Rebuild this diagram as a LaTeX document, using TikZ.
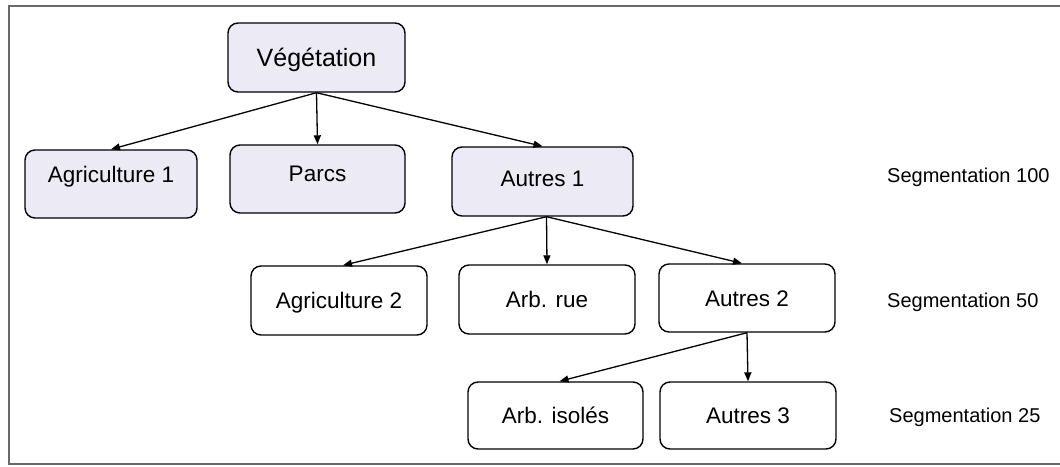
\documentclass[tikz,border=0pt]{standalone}
\usepackage{fontspec}
\setmainfont{Liberation Sans}
\usetikzlibrary{arrows.meta}
\definecolor{boxfill}{RGB}{236,234,244}
\definecolor{framegray}{RGB}{105,105,105}
\begin{document}
\begin{tikzpicture}[x=1pt,y=-1pt,
  box/.style={draw=black, line width=1.4pt, rounded corners=10pt,
    minimum width=176pt, minimum height=68pt, inner sep=0pt,
    font=\fontsize{22.5}{27}\selectfont, text height=16pt, text depth=0pt},
  shaded/.style={box, fill=boxfill},
  conn/.style={line width=1.3pt, -{Triangle[length=9pt,width=7pt]}},
  seglabel/.style={anchor=west, font=\fontsize{20}{24}\selectfont,
    inner sep=0pt, text height=14.3pt, text depth=0pt},
  framestyle/.style={draw=framegray, line width=1.5pt}]
\useasboundingbox (0,0) rectangle (1060,466);

% frame
\coordinate (ftr) at (1060,6);
\coordinate (ftl) at (9,6);
\coordinate (fbl) at (9,464);
\coordinate (fbr) at (1060,464);
\draw[framestyle] (ftr) -- (ftl) -- (fbl) -- (fbr);

% level 0
\node[shaded, minimum width=177pt, minimum height=69pt,
  font=\fontsize{25}{30}\selectfont, text height=18pt] (veg) at (316.5,57.5) {Végétation};

% level 1
\node[shaded, minimum width=172pt, text depth=20pt] (agr1) at (111,184) {Agriculture 1};
\node[shaded, minimum width=175pt, text depth=12pt] (parcs) at (317.5,179) {Parcs};
\node[shaded, minimum width=181pt, minimum height=69pt, text depth=7pt] (aut1) at (542.5,181.5) {Autres 1};

% level 2
\node[box, minimum height=69pt] (agr2) at (339,300.5) {Agriculture 2};
\node[box, minimum height=69pt] (arbrue) at (547,299.5) {Arb. rue};
\node[box] (aut2) at (747,298) {Autres 2};

% level 3
\node[box, minimum width=175pt, minimum height=67pt] (arbiso) at (555.5,415.5) {Arb. isolés};
\node[box, minimum height=67pt] (aut3) at (748,415.5) {Autres 3};

% connectors
\draw[conn] (veg.south) -- (agr1.north);
\draw[conn] (veg.south) -- (parcs.north);
\draw[conn] (veg.south) -- (aut1.north);
\draw[conn] ([xshift=4pt]aut1.south) -- ([xshift=4pt]agr2.north);
\draw[conn] ([xshift=4pt]aut1.south) -- (arbrue.north);
\draw[conn] ([xshift=4pt]aut1.south) -- ([xshift=-5pt]aut2.north);
\draw[conn] (aut2.south) -- ([xshift=4pt]arbiso.north);
\draw[conn] (aut2.south) -- (aut3.north);

% segmentation labels
\node[seglabel] (s100) at (887,175) {Segmentation 100};
\node[seglabel] (s50) at (887,300) {Segmentation 50};
\node[seglabel] (s25) at (889,415) {Segmentation 25};
\end{tikzpicture}
\end{document}
